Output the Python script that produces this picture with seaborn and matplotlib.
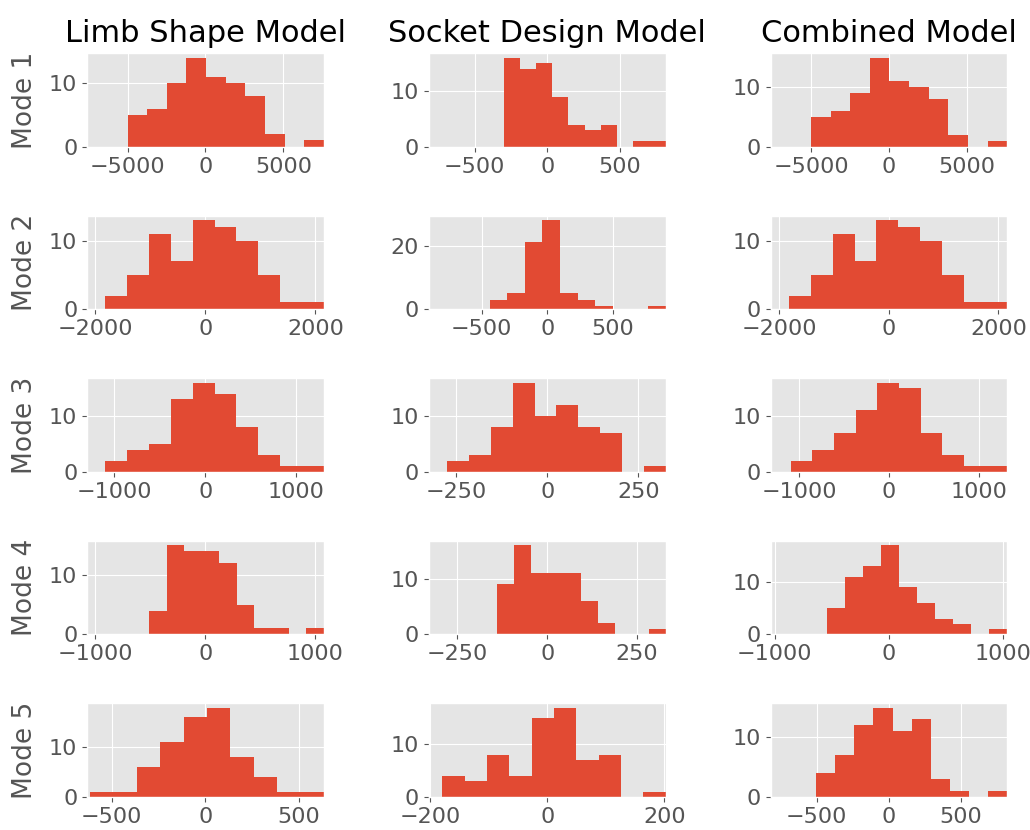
import matplotlib
matplotlib.use("Agg")
import matplotlib.pyplot as plt
import numpy as np
import pandas as pd
import seaborn as sns

plt.style.use("ggplot")
plt.rcParams["font.size"] = 16
plt.rcParams["xtick.labelsize"] = 16
plt.rcParams["ytick.labelsize"] = 16

models = ["Limb Shape Model", "Socket Design Model", "Combined Model"]
modes = ["Mode 1", "Mode 2", "Mode 3", "Mode 4", "Mode 5"]

# data range (min, max) of each mode score and the 10-bin counts
limb_lo = [-5000, -1818, -1099, -511, -615]
limb_hi = [7600, 2152, 1301, 1076, 632]
limb_counts = [
    [5, 6, 10, 14, 11, 10, 8, 2, 0, 1],
    [2, 5, 11, 7, 13, 12, 10, 5, 1, 1],
    [2, 4, 5, 13, 16, 14, 8, 3, 1, 1],
    [4, 15, 14, 14, 12, 5, 1, 1, 0, 1],
    [1, 1, 6, 11, 16, 18, 8, 4, 1, 1],
]

socket_lo = [-300, -439, -274, -140, -179]
socket_hi = [816, 903, 325, 329, 202]
socket_counts = [
    [16, 14, 15, 9, 4, 3, 4, 0, 1, 1],
    [3, 5, 21, 28, 5, 3, 1, 0, 0, 1],
    [2, 3, 8, 16, 10, 12, 8, 7, 0, 1],
    [9, 16, 11, 11, 11, 6, 2, 0, 0, 1],
    [4, 3, 8, 4, 15, 17, 7, 8, 0, 1],
]

combined_lo = [-5010, -1820, -1095, -540, -505]
combined_hi = [7600, 2162, 1320, 1036, 821]
combined_counts = [
    [5, 6, 9, 15, 11, 10, 8, 2, 0, 1],
    [2, 5, 11, 7, 13, 12, 10, 5, 1, 1],
    [2, 4, 7, 11, 16, 15, 7, 3, 1, 1],
    [5, 11, 13, 17, 9, 6, 3, 2, 0, 1],
    [4, 7, 12, 15, 11, 13, 3, 1, 0, 1],
]

limb_ticks = [[-5000, 0, 5000], [-2000, 0, 2000], [-1000, 0, 1000],
              [-1000, 0, 1000], [-500, 0, 500]]
socket_ticks = [[-500, 0, 500], [-500, 0, 500], [-250, 0, 250],
                [-250, 0, 250], [-200, 0, 200]]
combined_ticks = [[-5000, 0, 5000], [-2000, 0, 2000], [-1000, 0, 1000],
                  [-1000, 0, 1000], [-500, 0, 500]]

columns = [
    (limb_lo, limb_hi, limb_counts, limb_ticks),
    (socket_lo, socket_hi, socket_counts, socket_ticks),
    (combined_lo, combined_hi, combined_counts, combined_ticks),
]

fig, axes = plt.subplots(5, 3, figsize=(10.3, 8.3), dpi=100)
fig.subplots_adjust(left=0.0845, right=0.978, top=0.936, bottom=0.040,
                    wspace=0.443, hspace=0.733)

for j, (lo, hi, counts, ticks) in enumerate(columns):
    for i in range(len(modes)):
        ax = axes[i, j]
        edges = np.linspace(lo[i], hi[i], 11)
        df = pd.DataFrame({"score": (edges[:-1] + edges[1:]) / 2,
                           "n": counts[i]})
        sns.histplot(data=df, x="score", weights="n", bins=list(edges), ax=ax,
                     color="#E24A33", alpha=1, edgecolor="none", linewidth=0)
        m = max(abs(lo[i]), abs(hi[i]))
        ax.set_xlim(-m, m)
        ax.set_xticks(ticks[i])
        ax.set_xlabel("")
        if j == 0:
            ax.set_ylabel(modes[i], fontsize=19, labelpad=8)
        else:
            ax.set_ylabel("")
        if i == 0:
            ax.set_title(models[j], color="black", fontsize=22, pad=8)

fig.savefig("out.png", dpi=100)
